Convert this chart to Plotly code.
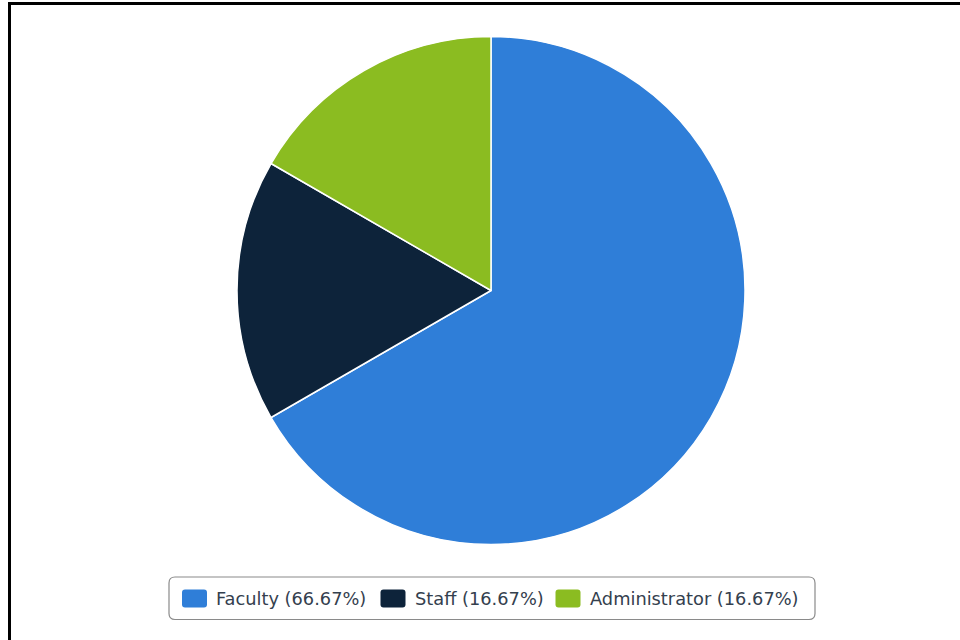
import plotly.graph_objects as go

# Headcount share by role
roles = ["Faculty", "Staff", "Administrator"]
counts = [4, 1, 1]
colors = ["#2f7ed8", "#0d233a", "#8bbc21"]

W, H = 960, 640
total = sum(counts)
legend_labels = [f"{r} ({c / total * 100:.2f}%)" for r, c in zip(roles, counts)]


def px(x):
    return x / W


def py(y):
    return (H - y) / H


fig = go.Figure()
fig.add_trace(go.Pie(
    labels=roles,
    values=counts,
    marker=dict(colors=colors, line=dict(color="white", width=1.5)),
    sort=False,
    direction="clockwise",
    rotation=0,
    textinfo="none",
    hoverinfo="label+percent",
    showlegend=False,
    domain=dict(x=[px(237), px(745)], y=[py(544.5), py(36.5)]),
))

shapes = []
annotations = []

# outer frame (top and left edges)
shapes.append(dict(
    type="path", xref="paper", yref="paper",
    path=f"M {px(9.5)},{py(640)} L {px(9.5)},{py(3.5)} L {px(960)},{py(3.5)}",
    line=dict(color="black", width=3),
))


def rounded_rect(x0, y0, x1, y1, r):
    return (f"M {px(x0 + r)},{py(y0)} L {px(x1 - r)},{py(y0)} "
            f"Q {px(x1)},{py(y0)} {px(x1)},{py(y0 + r)} "
            f"L {px(x1)},{py(y1 - r)} Q {px(x1)},{py(y1)} {px(x1 - r)},{py(y1)} "
            f"L {px(x0 + r)},{py(y1)} Q {px(x0)},{py(y1)} {px(x0)},{py(y1 - r)} "
            f"L {px(x0)},{py(y0 + r)} Q {px(x0)},{py(y0)} {px(x0 + r)},{py(y0)} Z")


# legend box
shapes.append(dict(
    type="path", xref="paper", yref="paper",
    path=rounded_rect(169, 577, 815, 619.5, 6),
    line=dict(color="#8a8a8a", width=1.2),
    fillcolor="white",
))

# legend entries: swatch left edge, text left edge
swatch_x = [182, 380.5, 555.5]
text_x = [214, 412.5, 588]
for label, col, sx, tx in zip(legend_labels, colors, swatch_x, text_x):
    shapes.append(dict(
        type="path", xref="paper", yref="paper",
        path=rounded_rect(sx, 589.5, sx + 25, 607.5, 3),
        line=dict(width=0),
        fillcolor=col,
    ))
    annotations.append(dict(
        xref="paper", yref="paper", x=px(tx), y=py(598.5),
        xanchor="left", yanchor="middle", showarrow=False,
        text=label,
        font=dict(family="DejaVu Sans", size=17.8, color="#34404e"),
    ))

fig.update_layout(
    width=W, height=H,
    margin=dict(l=0, r=0, t=0, b=0),
    paper_bgcolor="white",
    plot_bgcolor="white",
    shapes=shapes,
    annotations=annotations,
)

fig.write_html("out.html")
